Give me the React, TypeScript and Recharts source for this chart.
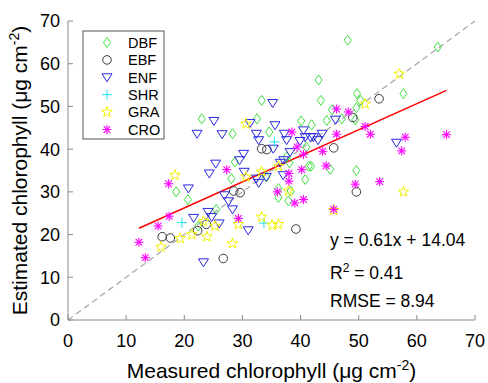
import React from "react";
import { ScatterChart, Scatter, XAxis, YAxis, ReferenceLine, Label } from "recharts";

const ticks = [0, 10, 20, 30, 40, 50, 60, 70];

// [measured, estimated]
const DBF: [number, number][] = [
  [18.6, 30.0], [20.6, 28.2], [22.4, 22.0], [25.5, 25.9], [28.7, 37.0], [28.1, 33.1],
  [23.0, 47.1], [28.3, 43.6], [32.5, 47.1], [33.3, 51.4], [34.6, 44.0], [40.1, 46.6],
  [41.9, 45.7], [34.1, 33.5], [36.2, 30.8], [36.2, 28.7], [38.3, 30.2], [37.9, 27.9],
  [38.1, 36.8], [37.6, 38.2], [41.0, 40.5], [41.4, 36.0], [41.8, 36.0], [45.1, 35.3],
  [49.6, 35.0], [40.8, 32.9], [48.1, 65.5], [43.1, 56.2], [43.5, 51.4], [49.7, 53.0],
  [50.3, 51.4], [49.6, 49.7], [45.4, 49.2], [49.4, 46.9], [44.5, 46.7], [47.1, 47.1],
  [63.6, 63.9], [57.7, 53.0],
];
const EBF: [number, number][] = [
  [16.2, 19.5], [17.6, 19.2], [22.3, 20.9], [23.8, 22.4], [26.7, 14.4], [28.5, 30.2],
  [29.6, 29.8], [33.3, 40.1], [34.2, 39.9], [39.2, 21.3], [45.7, 40.3], [49.6, 30.0],
  [49.0, 47.4], [53.5, 51.8],
];
const ENF: [number, number][] = [
  [20.7, 30.8], [25.4, 36.6], [24.3, 34.3], [30.2, 38.9], [29.5, 37.4], [30.3, 34.7],
  [26.9, 29.2], [27.6, 27.8], [28.3, 25.9], [31.0, 21.0], [21.6, 23.9], [24.1, 25.3],
  [24.7, 24.1], [26.0, 22.6], [23.3, 13.5], [35.2, 50.8], [25.1, 46.6], [31.3, 46.1],
  [35.6, 45.6], [22.2, 43.6], [26.5, 43.5], [32.4, 43.6], [37.2, 43.6], [32.8, 42.1],
  [35.3, 40.1], [37.6, 42.1], [38.2, 39.3], [36.5, 36.8], [37.1, 37.4], [32.4, 33.1],
  [32.8, 32.1], [37.0, 33.9], [34.1, 33.5], [40.5, 44.4], [40.8, 42.8], [41.7, 42.8],
  [43.7, 43.6], [42.2, 42.8], [46.0, 46.9], [56.5, 41.5], [39.9, 41.9], [43.0, 42.1],
];
const SHR: [number, number][] = [[19.6, 22.8], [33.7, 22.7], [35.5, 41.7]];
const GRA: [number, number][] = [
  [18.4, 33.9], [19.3, 19.1], [16.0, 17.1], [21.3, 20.0], [23.9, 19.5], [23.3, 23.1],
  [25.3, 22.0], [28.3, 17.9], [29.3, 22.4], [30.6, 45.9], [33.3, 34.7], [36.2, 36.0],
  [33.3, 24.1], [35.1, 22.2], [36.2, 22.4], [37.9, 30.2], [51.1, 50.6], [57.0, 57.6],
  [57.7, 30.0], [45.7, 25.7], [30.6, 33.5],
];
const CRO: [number, number][] = [
  [17.3, 31.9], [17.4, 24.3], [15.5, 22.0], [12.2, 18.2], [13.3, 14.6], [27.3, 35.2],
  [29.3, 23.8], [38.5, 44.0], [40.5, 38.8], [43.8, 39.5], [39.4, 40.5], [40.2, 35.2],
  [44.4, 36.1], [38.0, 34.3], [38.0, 32.5], [36.0, 30.0], [40.5, 28.2], [39.0, 27.4],
  [45.7, 25.9], [49.4, 31.8], [53.6, 32.4], [46.2, 49.4], [48.2, 48.7], [51.1, 45.3],
  [46.2, 43.5], [52.0, 43.5], [65.1, 43.4], [58.0, 42.8], [57.4, 39.6],
];

const slope = 0.61;
const intercept = 14.04;
const stats = ["y = 0.61x + 14.04", "R2 = 0.41", "RMSE = 8.94"];

const FONT = "'Liberation Sans', Arial, sans-serif";
const AXIS = "#8a8a8a";

const toPts = (a: [number, number][]) => a.map(([x, y]) => ({ x, y }));

// marker shapes
const Diamond = ({ cx, cy }: any) => (
  <polygon points={`${cx},${cy - 5} ${cx + 3.6},${cy} ${cx},${cy + 5} ${cx - 3.6},${cy}`} fill="none" stroke="#3ee03e" strokeWidth={1} />
);
const Circle = ({ cx, cy }: any) => <circle cx={cx} cy={cy} r={4.3} fill="none" stroke="#3a3a3a" strokeWidth={1} />;
const TriDown = ({ cx, cy }: any) => (
  <polygon points={`${cx - 5},${cy - 3.5} ${cx + 5},${cy - 3.5} ${cx},${cy + 4.5}`} fill="none" stroke="#2828e0" strokeWidth={1} />
);
const Plus = ({ cx, cy }: any) => (
  <g stroke="#20e0f0" strokeWidth={1}>
    <line x1={cx - 5} y1={cy} x2={cx + 5} y2={cy} />
    <line x1={cx} y1={cy - 5} x2={cx} y2={cy + 5} />
  </g>
);
const Star = ({ cx, cy }: any) => {
  const pts: string[] = [];
  for (let i = 0; i < 10; i++) {
    const r = i % 2 === 0 ? 5.6 : 2.3;
    const a = (-90 + i * 36) * (Math.PI / 180);
    pts.push(`${cx + r * Math.cos(a)},${cy + r * Math.sin(a)}`);
  }
  return <polygon points={pts.join(" ")} fill="none" stroke="#f2f200" strokeWidth={1} />;
};
const Asterisk = ({ cx, cy }: any) => (
  <g stroke="#ff00ff" strokeWidth={1.1}>
    <line x1={cx - 4.5} y1={cy} x2={cx + 4.5} y2={cy} />
    <line x1={cx} y1={cy - 4.5} x2={cx} y2={cy + 4.5} />
    <line x1={cx - 3.3} y1={cy - 3.3} x2={cx + 3.3} y2={cy + 3.3} />
    <line x1={cx - 3.3} y1={cy + 3.3} x2={cx + 3.3} y2={cy - 3.3} />
  </g>
);

const series = [
  { name: "DBF", data: DBF, shape: Diamond },
  { name: "EBF", data: EBF, shape: Circle },
  { name: "ENF", data: ENF, shape: TriDown },
  { name: "SHR", data: SHR, shape: Plus },
  { name: "GRA", data: GRA, shape: Star },
  { name: "CRO", data: CRO, shape: Asterisk },
];

const allX = series.flatMap((s) => s.data.map((d) => d[0]));
const fitX0 = Math.min(...allX);
const fitX1 = Math.max(...allX);

const XTitle = ({ viewBox }: any) => (
  <text x={viewBox.x + viewBox.width / 2} y={378} textAnchor="middle" fontSize={21} fontFamily={FONT} fill="#000">
    Measured chlorophyll (μg cm<tspan dy={-8} fontSize={14}>-2</tspan><tspan dy={8}>)</tspan>
  </text>
);
const YTitle = ({ viewBox }: any) => {
  const cy = viewBox.y + viewBox.height / 2;
  return (
    <text x={27} y={cy} transform={`rotate(-90 27 ${cy})`} textAnchor="middle" fontSize={21} fontFamily={FONT} fill="#000">
      Estimated chlorophyll (μg cm<tspan dy={-8} fontSize={14}>-2</tspan><tspan dy={8}>)</tspan>
    </text>
  );
};

export default function App() {
  return (
    <div style={{ position: "relative", width: 488, height: 383, background: "#fff" }}>
      <style>{`body{margin:0}`}</style>
      <ScatterChart width={488} height={383} margin={{ top: 21, right: 13, left: 0, bottom: 0 }}>
        <XAxis
          type="number" dataKey="x" domain={[0, 70]} ticks={ticks} height={63}
          stroke={AXIS} tickSize={-5} tickMargin={19} interval={0}
          tick={{ fontSize: 18, fill: "#000", fontFamily: FONT }}
        >
          <Label content={XTitle} />
        </XAxis>
        <XAxis xAxisId="top" orientation="top" type="number" dataKey="x" domain={[0, 70]} ticks={ticks} height={0} stroke={AXIS} tickSize={-5} tick={false} />
        <YAxis
          type="number" dataKey="y" domain={[0, 70]} ticks={ticks} width={68}
          stroke={AXIS} tickSize={-5} tickMargin={13} interval={0}
          tick={{ fontSize: 18, fill: "#000", fontFamily: FONT }}
        >
          <Label content={YTitle} />
        </YAxis>
        <YAxis yAxisId="right" orientation="right" type="number" dataKey="y" domain={[0, 70]} ticks={ticks} width={0} stroke={AXIS} tickSize={-5} tick={false} />
        <ReferenceLine
          segment={[{ x: 0, y: 0 }, { x: 70, y: 70 }]}
          stroke="#aaaaaa" strokeWidth={1.3} strokeDasharray="6 4"
        />
        {series.map((s) => (
          <Scatter key={s.name} name={s.name} data={toPts(s.data)} shape={s.shape} isAnimationActive={false} />
        ))}
        <ReferenceLine
          segment={[{ x: fitX0, y: slope * fitX0 + intercept }, { x: fitX1, y: slope * fitX1 + intercept }]}
          stroke="#ff0000" strokeWidth={1.5}
        />
      </ScatterChart>
      <svg width={488} height={383} style={{ position: "absolute", left: 0, top: 0, pointerEvents: "none" }}>
        <rect x={83} y={31} width={81} height={108} fill="#fff" stroke="#555" strokeWidth={1} />
        {series.map((s, i) => {
          const Shape = s.shape;
          const cy = 42.5 + i * 17.4;
          return (
            <g key={s.name}>
              <Shape cx={107} cy={cy} />
              <text x={128} y={cy + 5.2} fontSize={14.5} fontFamily={FONT} fill="#000">{s.name}</text>
            </g>
          );
        })}
        <g fontFamily={FONT} fontSize={17.5} fill="#000">
          <text x={330} y={246}>{stats[0]}</text>
          <text x={330} y={279}>
            R<tspan dy={-7} fontSize={12}>2</tspan><tspan dy={7}>{stats[1].slice(2)}</tspan>
          </text>
          <text x={330} y={306.5}>{stats[2]}</text>
        </g>
      </svg>
    </div>
  );
}
